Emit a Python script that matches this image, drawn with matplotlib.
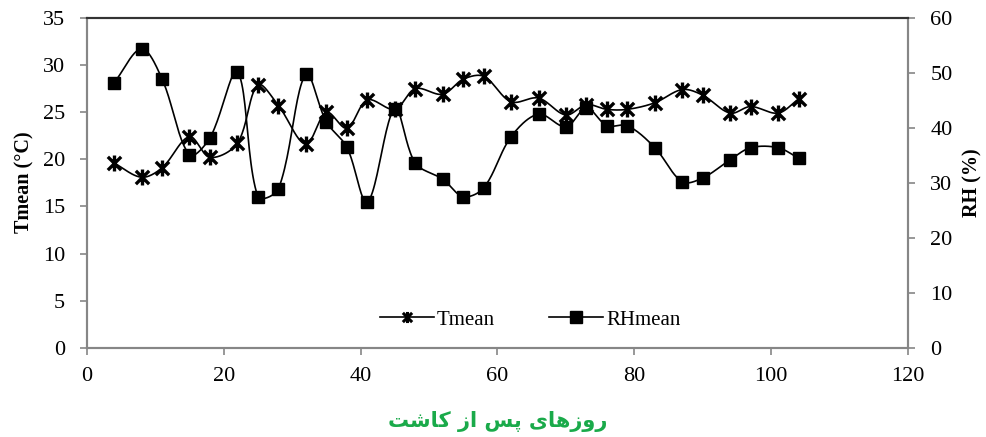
import numpy as np
import matplotlib.pyplot as plt
from matplotlib.path import Path
from matplotlib.lines import Line2D

# days after sowing
days = [4, 8, 11, 15, 18, 22, 25, 28, 32, 35, 38, 41, 45, 48, 52,
        55, 58, 62, 66, 70, 73, 76, 79, 83, 87, 90, 94, 97, 101, 104]
# mean temperature (C)
tmean = [19.6, 18.1, 19.1, 22.4, 20.2, 21.7, 27.9, 25.7, 21.6, 25.0,
         23.3, 26.3, 25.3, 27.5, 26.9, 28.5, 28.8, 26.1, 26.5, 24.7,
         25.8, 25.3, 25.3, 26.0, 27.4, 26.8, 24.9, 25.6, 24.9, 26.4]
# mean relative humidity (%)
rhmean = [48.2, 54.4, 48.9, 35.1, 38.2, 50.2, 27.5, 28.9, 49.8, 41.1,
          36.5, 26.5, 43.5, 33.6, 30.7, 27.5, 29.1, 38.4, 42.5, 40.2,
          43.6, 40.4, 40.4, 36.4, 30.2, 30.9, 34.2, 36.4, 36.4, 34.5]

xlabel_fa = "\uFE96\uFEB7\uFE8E\uFB90 \uFEAF\uFE8D \uFEB2\uFB58 \uFBFC\uFE8E\uFEEB\uFEAF\uFEED\uFEAD"


def smooth(x, y, sx, sy, n=24):
    # smoothed line through the points: cubic Bezier pieces, Catmull-Rom
    # tangents weighted by neighbouring segment lengths (in screen units)
    p = np.column_stack([np.asarray(x, float) * sx, np.asarray(y, float) * sy])
    m = len(p)
    t = np.linspace(0, 1, n)[:, None]

    def handle(i, j):
        # offset of the control point next to p[i], on the side of p[j]
        a = p[max(i - 1, 0)]
        b = p[min(i + 1, m - 1)]
        d_prev = np.hypot(*(p[i] - a))
        d_next = np.hypot(*(b - p[i]))
        seg = d_next if j > i else d_prev
        if d_prev + d_next == 0:
            return np.zeros(2)
        return (b - a) * seg / (d_prev + d_next) / 3

    out = []
    for i in range(m - 1):
        p1, p2 = p[i], p[i + 1]
        c1 = p1 + handle(i, i + 1)
        c2 = p2 - handle(i + 1, i)
        b = ((1 - t) ** 3) * p1 + 3 * ((1 - t) ** 2) * t * c1 + 3 * (1 - t) * t ** 2 * c2 + t ** 3 * p2
        out.append(b)
    out = np.concatenate(out)
    return out[:, 0] / sx, out[:, 1] / sy


star = Path([(-1, -1), (1, 1), (-1, 1), (1, -1), (0, -1.2), (0, 1.2)],
            [Path.MOVETO, Path.LINETO, Path.MOVETO, Path.LINETO, Path.MOVETO, Path.LINETO])

plt.rcParams['font.family'] = ['Liberation Serif', 'DejaVu Sans']
grey = '#868686'

fig = plt.figure(figsize=(9.86, 4.37), dpi=100)
ax = fig.add_axes([0.088, 0.204, 0.833, 0.755])
ax2 = ax.twinx()

# pixels per data unit, so the curve bends the same way on screen
px_day = 821 / 120
sx, sy = smooth(days, tmean, px_day, 330 / 35)
ax.plot(sx, sy, color='black', lw=1.2)
ax.plot(days, tmean, ls='none', marker=star, ms=11.5, mew=2.4, color='black')

rx, ry = smooth(days, rhmean, px_day, 330 / 60)
ax2.plot(rx, ry, color='black', lw=1.2)
ax2.plot(days, rhmean, ls='none', marker='s', ms=9, color='black')

ax.set_xlim(0, 120)
ax.set_ylim(0, 35)
ax2.set_ylim(0, 60)
ax.set_xticks(range(0, 121, 20))
ax.set_yticks(range(0, 36, 5))
ax2.set_yticks(range(0, 61, 10))

for a in (ax, ax2):
    for s in ('left', 'right', 'bottom'):
        a.spines[s].set_color(grey)
        a.spines[s].set_linewidth(1.5)
    a.spines['top'].set_color('#333333')
    a.spines['top'].set_linewidth(1.5)
    a.tick_params(labelsize=16, color=grey, width=1.2, length=5)
ax.tick_params(axis='y', pad=10.5)
ax.tick_params(axis='x', pad=9)
ax2.tick_params(axis='y', pad=11)

ax.set_ylabel('Tmean (\u00b0C)', fontsize=14.5, fontweight='bold')
ax.yaxis.set_label_coords(-0.064, 0.503)
ax2.set_ylabel('RH (%)', fontsize=14.5, fontweight='bold')
ax2.yaxis.set_label_coords(1.066, 0.5)
ax.set_xlabel(xlabel_fa, fontsize=15, fontweight='bold', color='#1aaa4a',
              family='DejaVu Sans', labelpad=18)

handles = [Line2D([], [], color='black', lw=1.2, marker=star, ms=8, mew=2.2),
           Line2D([], [], color='black', lw=1.2, marker='s', ms=8)]
ax.legend(handles, ['Tmean', 'RHmean'], loc='center', bbox_to_anchor=(0.54, 0.085),
          ncol=2, frameon=False, fontsize=15, handlelength=2.6, handletextpad=0.15,
          columnspacing=2.6)

fig.savefig('out.png', dpi=100)
